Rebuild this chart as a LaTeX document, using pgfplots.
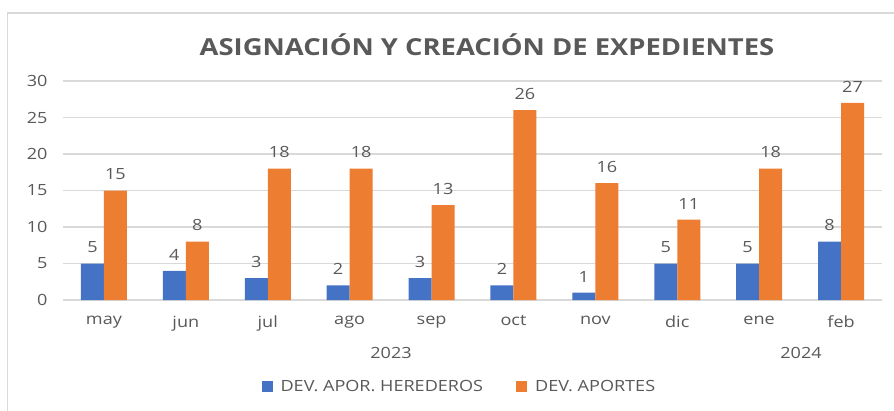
\documentclass[border=0pt]{standalone}
\usepackage{pgfplots}
\pgfplotsset{compat=1.18}
\usepackage{fontspec}
\setmainfont{Open Sans}[FakeStretch=1.17]
\definecolor{cblue}{HTML}{4472C4}
\definecolor{corange}{HTML}{ED7D31}
\definecolor{txt}{HTML}{595959}
\definecolor{gridc}{HTML}{D9D9D9}
\begin{document}
\begin{tikzpicture}[x=1bp,y=1bp]
\useasboundingbox (0,0) rectangle (894,410);
\fill[white] (0,0) rectangle (894,410);
\draw[gridc, line width=1.2bp] (7.5,-5) -- (7.5,397) -- (900,397);
\node[font=\fontsize{23.5}{28}\selectfont\bfseries, text=txt] at (487,365) {ASIGNACIÓN Y CREACIÓN DE EXPEDIENTES};
\begin{axis}[
  at={(63bp,110bp)}, anchor=south west, scale only axis,
  width=819bp, height=219bp,
  ybar=0pt, bar width=23bp,
  xmin=-0.5, xmax=9.5, ymin=0, ymax=30,
  enlarge x limits=false,
  ytick={0,5,...,30},
  xtick={0,...,9},
  xticklabels={may,jun,jul,ago,sep,oct,nov,dic,ene,feb},
  axis line style={draw=none},
  major tick style={draw=none},
  ymajorgrids, grid style={gridc, line width=1.2bp},
  ticklabel style={font=\fontsize{15.5}{19}\selectfont, text=txt},
  /pgf/number format/assume math mode=true,
  yticklabel style={xshift=-12bp},
  xticklabel style={yshift=-8bp},
  nodes near coords,
  nodes near coords style={font=\fontsize{15.5}{19}\selectfont, text=txt, anchor=south, yshift=7bp},
  legend style={draw=none, at={(0.484,-0.397)}, anchor=center, legend columns=2,
    font=\fontsize{15.5}{19}\selectfont, text=txt,
    /tikz/every odd column/.append style={column sep=6bp},
    /tikz/every even column/.append style={column sep=31bp}},
  legend image code/.code={\fill[#1] (0bp,-5.5bp) rectangle (11bp,5.5bp);},
]
\addplot[fill=cblue, draw=none] coordinates {(0,5) (1,4) (2,3) (3,2) (4,3) (5,2) (6,1) (7,5) (8,5) (9,8)};
\addplot[fill=corange, draw=none] coordinates {(0,15) (1,8) (2,18) (3,18) (4,13) (5,26) (6,16) (7,11) (8,18) (9,27)};
\legend{DEV. APOR. HEREDEROS, DEV. APORTES}
\end{axis}
\node[font=\fontsize{15.5}{19}\selectfont, text=txt] at (391,57) {2023};
\node[font=\fontsize{15.5}{19}\selectfont, text=txt] at (801,57) {2024};
\end{tikzpicture}
\end{document}
